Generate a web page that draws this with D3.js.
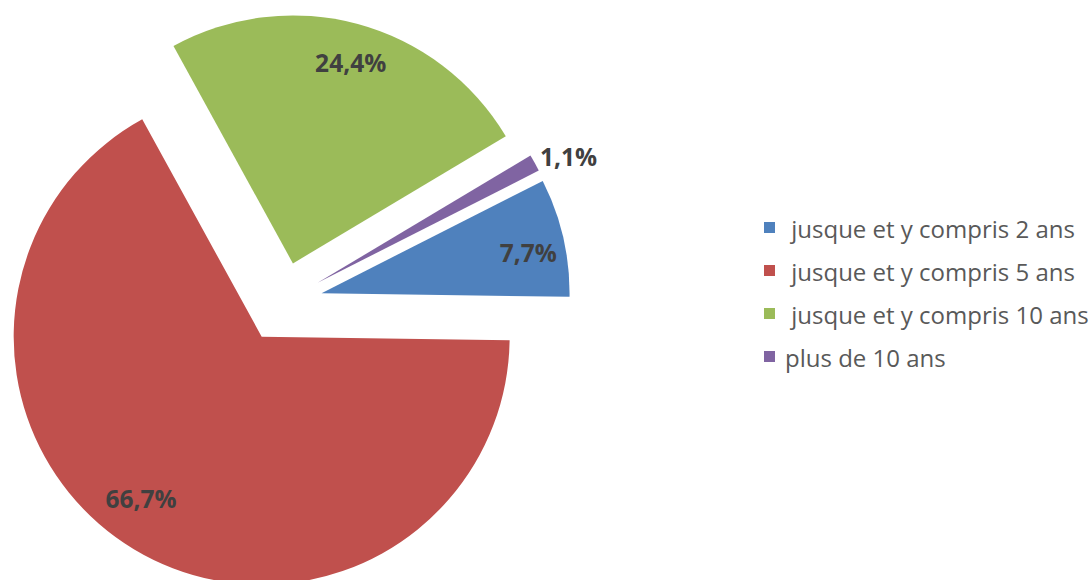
<!DOCTYPE html>
<html><head><meta charset="utf-8">
<script src="https://cdn.jsdelivr.net/npm/d3@7"></script>
<style>body{margin:0;background:#fff}svg{display:block}</style>
</head><body>
<svg id="c" width="1091" height="580"></svg>
<script>
const categories = [" jusque et y compris 2 ans", " jusque et y compris 5 ans", " jusque et y compris 10 ans", "plus de 10 ans"];
const values = [7.7, 66.7, 24.4, 1.1];
const valueLabels = ["7,7%", "66,7%", "24,4%", "1,1%"];
const colors = ["#4F81BD", "#C0504D", "#9BBB59", "#8064A2"];

const svg = d3.select("#c");
const cx = 282.4, cy = 302.2, R = 248, explode = 40.2;
const start = 63.1 * Math.PI / 180;
const pie = d3.pie().sort(null).value(d => d).startAngle(start).endAngle(start + 2 * Math.PI);
const arcs = pie(values);
const arc = d3.arc().innerRadius(0).outerRadius(R);
const g = svg.append("g").attr("transform", `translate(${cx},${cy})`);
const mid = d => (d.startAngle + d.endAngle) / 2;
const polar = (a, r) => [Math.sin(a) * r, -Math.cos(a) * r];

const slices = g.selectAll("g.slice").data(arcs).join("g")
  .attr("class", "slice")
  .attr("transform", d => { const [x, y] = polar(mid(d), explode); return `translate(${x},${y})`; });

slices.append("path")
  .attr("d", arc)
  .attr("fill", (d, i) => colors[i]);

const labelR = [210.6, 202.2, 208.6, 281];
const labelAdj = [1.9, 5.6, 0.9, 2.1].map(a => a * Math.PI / 180);
slices.append("text")
  .attr("x", (d, i) => polar(mid(d) + labelAdj[i], labelR[i])[0])
  .attr("y", (d, i) => polar(mid(d) + labelAdj[i], labelR[i])[1])
  .attr("text-anchor", "middle").attr("dominant-baseline", "central")
  .attr("font-family", "'Open Sans', sans-serif").attr("font-weight", "bold")
  .attr("font-size", 24.5).attr("fill", "#404040")
  .text((d, i) => valueLabels[i]);

const leg = svg.append("g").attr("transform", "translate(764,228)");
const items = leg.selectAll("g").data(categories).join("g")
  .attr("transform", (d, i) => `translate(0,${i * 43})`);
items.append("rect").attr("x", 0).attr("y", -6).attr("width", 11).attr("height", 11)
  .attr("fill", (d, i) => colors[i]);
items.append("text").attr("x", 21).attr("y", 0).attr("dominant-baseline", "central")
  .attr("font-family", "'Open Sans', sans-serif").attr("font-size", 24).attr("fill", "#595959")
  .attr("xml:space", "preserve").style("white-space", "pre")
  .text(d => d);
</script>
</body></html>
